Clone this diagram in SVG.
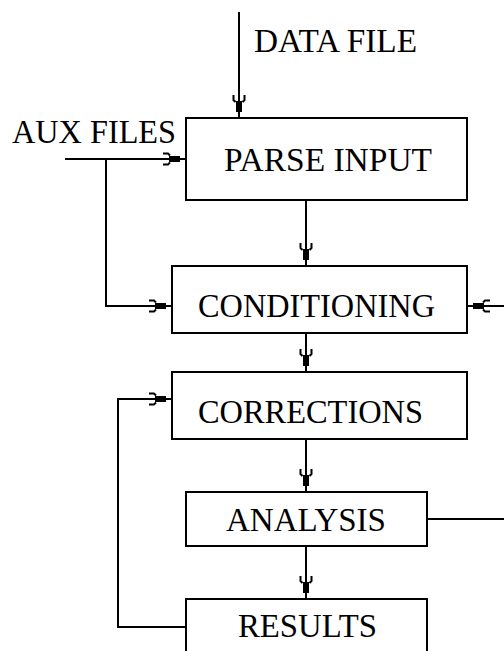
<svg xmlns="http://www.w3.org/2000/svg" width="504" height="651" viewBox="0 0 504 651">
<style>
.box{fill:#fff;stroke:#000;stroke-width:2}
.lbl{font-family:"Liberation Serif","Times New Roman",serif;font-size:34px;fill:#000}
.con{fill:none;stroke:#000;stroke-width:2}
</style>
<defs>
<marker id="ah" markerUnits="userSpaceOnUse" markerWidth="30" markerHeight="20" viewBox="-26 -10 30 20" refX="0" refY="0" orient="auto" overflow="visible">
<rect x="-17" y="-3" width="11" height="6" fill="#000"/>
<path d="M-23,-5.5 H-18 L-16,-3.5 M-23,5.5 H-18 L-16,3.5" fill="none" stroke="#000" stroke-width="2"/>
</marker>
</defs>
<rect width="504" height="651" fill="#fff"/>
<g id="connectors">
<path class="con" d="M239,12 V118" marker-end="url(#ah)"/>
<path class="con" d="M65,159 H186" marker-end="url(#ah)"/>
<path class="con" d="M106,159 V306 H172" marker-end="url(#ah)"/>
<path class="con" d="M306,200 V266" marker-end="url(#ah)"/>
<path class="con" d="M504,306 H467" marker-end="url(#ah)"/>
<path class="con" d="M306,333 V372" marker-end="url(#ah)"/>
<path class="con" d="M186,627 H118 V399 H172" marker-end="url(#ah)"/>
<path class="con" d="M306,439 V492" marker-end="url(#ah)"/>
<path class="con" d="M427,519 H504"/>
<path class="con" d="M306,546 V599" marker-end="url(#ah)"/>
</g>
<g id="data-file">
<text class="lbl" x="254" y="52" textLength="163" lengthAdjust="spacingAndGlyphs">DATA FILE</text>
</g>
<g id="aux-files">
<text class="lbl" x="12" y="143" textLength="164" lengthAdjust="spacingAndGlyphs">AUX FILES</text>
</g>
<g id="parse-input">
<rect class="box" x="186" y="118" width="281" height="82"/>
<text class="lbl" x="224" y="171" textLength="208" lengthAdjust="spacingAndGlyphs">PARSE INPUT</text>
</g>
<g id="conditioning">
<rect class="box" x="172" y="266" width="295" height="67"/>
<text class="lbl" x="198" y="317" textLength="237" lengthAdjust="spacingAndGlyphs">CONDITIONING</text>
</g>
<g id="corrections">
<rect class="box" x="172" y="372" width="295" height="67"/>
<text class="lbl" x="198" y="423" textLength="225" lengthAdjust="spacingAndGlyphs">CORRECTIONS</text>
</g>
<g id="analysis">
<rect class="box" x="186" y="492" width="241" height="54"/>
<text class="lbl" x="226" y="531" textLength="160" lengthAdjust="spacingAndGlyphs">ANALYSIS</text>
</g>
<g id="results">
<rect class="box" x="186" y="599" width="241" height="62"/>
<text class="lbl" x="238" y="637" textLength="139" lengthAdjust="spacingAndGlyphs">RESULTS</text>
</g>
</svg>
